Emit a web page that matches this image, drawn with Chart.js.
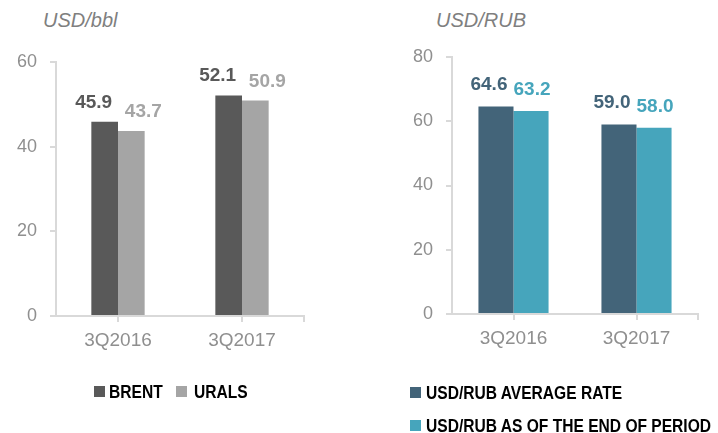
<!DOCTYPE html>
<html>
<head>
<meta charset="utf-8">
<script src="https://cdn.jsdelivr.net/npm/chart.js@4/dist/chart.umd.min.js"></script>
<style>
  html, body { margin: 0; padding: 0; background: #fff; overflow: hidden; width: 718px; height: 433px; }
  .box { position: absolute; top: 0; height: 433px; }
  .ttl { position: absolute; font-family: "Liberation Sans", Arial, sans-serif; font-style: italic; font-size: 20px; color: #7f7f7f; line-height: 1; }
  .lg { position: absolute; height: 19px; white-space: nowrap; }
  .lg .sw { position: absolute; left: 0; width: 11px; height: 11px; }
  .lg .tx { position: absolute; display: inline-block; font-family: "Liberation Sans", Arial, sans-serif; font-weight: bold; font-size: 19px; line-height: 19px; color: #000; transform: scaleX(0.82); transform-origin: 0 0; }
</style>
</head>
<body>
<div class="ttl" style="left:43px; top:10px;">USD/bbl</div>
<div class="ttl" style="left:436px; top:10px;">USD/RUB</div>
<div class="box" style="left:0; width:360px;"><canvas id="c1"></canvas></div>
<div class="box" style="left:392px; width:326px;"><canvas id="c2"></canvas></div>
<div id="legends"></div>
<script>
// ---- data ----
const categories = ["3Q2016", "3Q2017"];
const oilSeriesNames = ["BRENT", "URALS"];
const brent = [45.9, 52.1];
const urals = [43.7, 50.9];
const fxSeriesNames = ["USD/RUB AVERAGE RATE", "USD/RUB AS OF THE END OF PERIOD"];
const usdRubAverage = [64.6, 59.0];
const usdRubEnd = [63.2, 58.0];
const oilTicks = [0, 20, 40, 60];
const fxTicks = [0, 20, 40, 60, 80];

const TICK_COLOR = "#8f8f8f";
const AXIS_COLOR = "#d9d9d9";

const valueLabels = {
  id: "valueLabels",
  afterDatasetsDraw(chart, args, opts) {
    const ctx = chart.ctx;
    ctx.save();
    ctx.font = "bold 19px 'Liberation Sans', Arial, sans-serif";
    ctx.textAlign = "center";
    ctx.textBaseline = "alphabetic";
    chart.data.datasets.forEach((ds, di) => {
      const meta = chart.getDatasetMeta(di);
      meta.data.forEach((bar, i) => {
        ctx.fillStyle = ds.backgroundColor;
        ctx.fillText(ds.data[i].toFixed(1), bar.x + opts.dx[di], bar.y - opts.dy);
      });
    });
    // small end tick on the category axis
    const xs = chart.scales.x;
    ctx.strokeStyle = AXIS_COLOR;
    ctx.lineWidth = 2;
    ctx.beginPath();
    ctx.moveTo(xs.right, xs.top);
    ctx.lineTo(xs.right, xs.top + 6);
    ctx.stroke();
    ctx.restore();
  }
};

function makeChart(id, cfg) {
  return new Chart(document.getElementById(id), {
    type: "bar",
    data: {
      labels: categories,
      datasets: cfg.series.map((s) => ({
        label: s.name,
        data: s.data,
        backgroundColor: s.color,
        borderWidth: 0,
        categoryPercentage: cfg.catPct,
        barPercentage: 1
      }))
    },
    options: {
      responsive: true,
      maintainAspectRatio: false,
      animation: false,
      layout: { padding: cfg.padding },
      plugins: {
        tooltip: { enabled: false },
        legend: { display: false },
        valueLabels: { dx: cfg.dx, dy: cfg.dy }
      },
      scales: {
        x: {
          offset: true,
          afterFit(scale) { scale.height = cfg.xHeight; },
          grid: { offset: false, drawOnChartArea: false, drawTicks: true, tickLength: 6, color: AXIS_COLOR, lineWidth: 2 },
          border: { display: true, color: AXIS_COLOR, width: 2 },
          ticks: { color: TICK_COLOR, padding: 7, font: { family: "'Liberation Sans', Arial, sans-serif", size: 19 } }
        },
        y: {
          min: 0,
          max: cfg.ticks[cfg.ticks.length - 1],
          afterFit(scale) { scale.width = cfg.yWidth; },
          afterBuildTicks(scale) { scale.ticks = cfg.ticks.map((v) => ({ value: v })); },
          grid: { drawOnChartArea: false, drawTicks: true, tickLength: 6, color: AXIS_COLOR, lineWidth: 2 },
          border: { display: true, color: AXIS_COLOR, width: 2 },
          ticks: { color: TICK_COLOR, padding: 13, font: { family: "'Liberation Sans', Arial, sans-serif", size: 18 } }
        }
      }
    },
    plugins: [valueLabels]
  });
}

function makeLegend(items) {
  const host = document.getElementById("legends");
  items.forEach((it) => {
    const d = document.createElement("div");
    d.className = "lg";
    d.style.left = it.left + "px";
    d.style.top = it.top + "px";
    const sw = document.createElement("span");
    sw.className = "sw";
    sw.style.background = it.color;
    sw.style.top = "4px";
    const tx = document.createElement("span");
    tx.className = "tx";
    tx.style.left = it.gap + "px";
    tx.textContent = it.name;
    d.appendChild(sw);
    d.appendChild(tx);
    host.appendChild(d);
  });
}

const oilColors = ["#595959", "#a5a5a5"];
const fxColors = ["#436479", "#46a5bc"];

makeChart("c1", {
  series: [
    { name: oilSeriesNames[0], data: brent, color: oilColors[0] },
    { name: oilSeriesNames[1], data: urals, color: oilColors[1] }
  ],
  ticks: oilTicks,
  catPct: 0.43,
  padding: { top: 62, left: 0, right: 56, bottom: 65 },
  yWidth: 56,
  xHeight: 52,
  dx: [-11, 12],
  dy: 14
});

makeChart("c2", {
  series: [
    { name: fxSeriesNames[0], data: usdRubAverage, color: fxColors[0] },
    { name: fxSeriesNames[1], data: usdRubEnd, color: fxColors[1] }
  ],
  ticks: fxTicks,
  catPct: 0.57,
  padding: { top: 57, left: 0, right: 20, bottom: 65 },
  yWidth: 60,
  xHeight: 54,
  dx: [-7, 1],
  dy: 16
});

makeLegend([
  { name: oilSeriesNames[0], color: oilColors[0], left: 94, top: 382, gap: 15 },
  { name: oilSeriesNames[1], color: oilColors[1], left: 176, top: 382, gap: 18 },
  { name: fxSeriesNames[0], color: fxColors[0], left: 410, top: 383, gap: 16 },
  { name: fxSeriesNames[1], color: fxColors[1], left: 410, top: 416, gap: 16 }
]);
</script>
</body>
</html>
